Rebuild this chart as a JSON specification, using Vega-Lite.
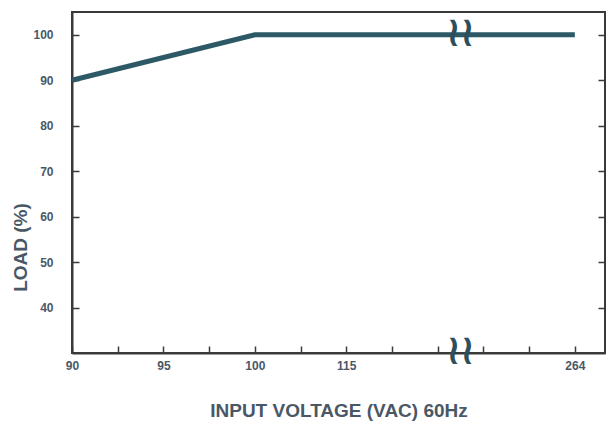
{
  "$schema": "https://vega.github.io/schema/vega-lite/v6.json",
  "width": 533,
  "height": 341,
  "autosize": "none",
  "padding": {"left": 72, "top": 12, "right": 2, "bottom": 77},
  "background": "white",
  "config": {
    "view": {"stroke": "#3a3a3a", "strokeWidth": 2},
    "axis": {
      "grid": false,
      "domainColor": "#3a3a3a",
      "domainWidth": 2,
      "tickColor": "#3a3a3a",
      "tickWidth": 1.5,
      "labelColor": "#4a5866",
      "labelFont": "Liberation Sans",
      "labelFontSize": 12,
      "labelFontWeight": "bold",
      "titleColor": "#4a5866",
      "titleFont": "Liberation Sans",
      "titleFontWeight": "bold"
    }
  },
  "datasets": {
    "curve": [
      {"voltage": "90", "pos": 0, "load": 90},
      {"voltage": "100", "pos": 4, "load": 100},
      {"voltage": "264", "pos": 11, "load": 100}
    ],
    "breaks": [
      {"pos": 8.5, "load": 100, "sym": "≀≀"},
      {"pos": 8.5, "load": 30, "sym": "≀≀"}
    ]
  },
  "layer": [
    {
      "data": {"name": "curve"},
      "mark": {"type": "line", "color": "#2d5866", "strokeWidth": 5},
      "encoding": {
        "x": {
          "field": "pos", "type": "quantitative",
          "scale": {"domain": [0, 11.66], "nice": false, "zero": false},
          "axis": {
            "title": "INPUT VOLTAGE (VAC) 60Hz",
            "titleFontSize": 19,
            "titleY": 48,
            "values": [0, 1, 2, 3, 4, 5, 6, 7, 8, 9, 10, 11],
            "labelExpr": "datum.value == 0 ? '90' : datum.value == 2 ? '95' : datum.value == 4 ? '100' : datum.value == 6 ? '115' : datum.value == 11 ? '264' : ''",
            "tickSize": -7,
            "labelPadding": 14,
            "labelFlush": false,
            "labelOverlap": false
          }
        },
        "y": {
          "field": "load", "type": "quantitative",
          "scale": {"domain": [30, 105], "nice": false, "zero": false},
          "axis": {
            "title": "LOAD (%)",
            "titleFontSize": 19,
            "titleX": -52,
            "titleY": 235,
            "titleBaseline": "middle",
            "values": [40, 50, 60, 70, 80, 90, 100],
            "tickSize": -7,
            "labelPadding": 26
          }
        }
      }
    },
    {
      "data": {"name": "breaks"},
      "mark": {"type": "text", "color": "#2d4f5c", "fontSize": 42, "fontWeight": "bold", "font": "DejaVu Sans Condensed", "baseline": "middle", "align": "center", "dy": -2},
      "encoding": {
        "x": {"field": "pos", "type": "quantitative", "scale": {"domain": [0, 11.66], "nice": false, "zero": false}},
        "y": {
          "field": "load", "type": "quantitative",
          "scale": {"domain": [30, 105], "nice": false, "zero": false},
          "axis": {"orient": "right", "title": null, "labels": false, "domain": false, "values": [40, 50, 60, 70, 80, 90, 100], "tickSize": -7}
        },
        "text": {"field": "sym"}
      }
    }
  ],
  "resolve": {"scale": {"y": "independent"}, "axis": {"y": "independent"}}
}
